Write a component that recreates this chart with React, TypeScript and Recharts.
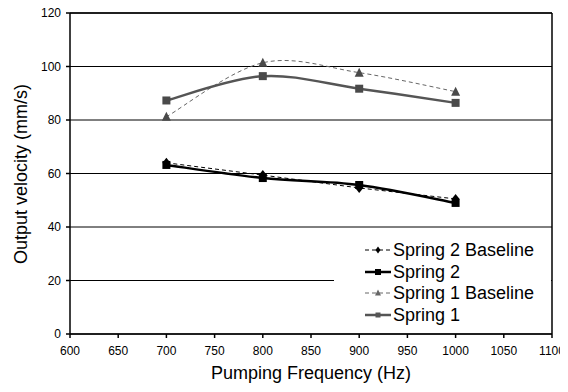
import React from "react";
import {
  LineChart,
  Line,
  XAxis,
  YAxis,
  CartesianGrid,
  ReferenceLine,
  Legend,
} from "recharts";

const frequencies = [700, 800, 900, 1000];
const spring2Baseline = [64, 59.4, 54.6, 50.5];
const spring2 = [63.2, 58.3, 55.7, 49];
const spring1Baseline = [81.2, 101.4, 97.7, 90.6];
const spring1 = [87.3, 96.4, 91.7, 86.4];

const xTicks = [600, 650, 700, 750, 800, 850, 900, 950, 1000, 1050, 1100];
const yTicks = [0, 20, 40, 60, 80, 100, 120];

const data = frequencies.map((f, i) => ({
  freq: f,
  s2b: spring2Baseline[i],
  s2: spring2[i],
  s1b: spring1Baseline[i],
  s1: spring1[i],
}));

// Catmull-Rom style smoothing (similar to spreadsheet "smoothed line")
const smoothCurve: any = (context: any) => {
  let pts: number[][] = [];
  return {
    areaStart() {},
    areaEnd() {},
    lineStart() {
      pts = [];
    },
    point(x: number, y: number) {
      pts.push([+x, +y]);
    },
    lineEnd() {
      if (!pts.length) return;
      context.moveTo(pts[0][0], pts[0][1]);
      for (let i = 0; i < pts.length - 1; i++) {
        const p0 = pts[i - 1] || pts[i];
        const p1 = pts[i];
        const p2 = pts[i + 1];
        const p3 = pts[i + 2] || pts[i + 1];
        const c1x = p1[0] + (p2[0] - p0[0]) / 6;
        const c1y = p1[1] + (p2[1] - p0[1]) / 6;
        const c2x = p2[0] - (p3[0] - p1[0]) / 6;
        const c2y = p2[1] - (p3[1] - p1[1]) / 6;
        context.bezierCurveTo(c1x, c1y, c2x, c2y, p2[0], p2[1]);
      }
    },
  };
};

type Shape = "square" | "triangle" | "diamond";

const Marker = ({ cx, cy, shape, color, size }: any) => {
  const s = size / 2;
  if (shape === "square")
    return <rect x={cx - s} y={cy - s} width={size} height={size} fill={color} />;
  if (shape === "triangle")
    return (
      <polygon
        points={`${cx},${cy - s - 1} ${cx + s + 0.5},${cy + s} ${cx - s - 0.5},${cy + s}`}
        fill={color}
      />
    );
  return (
    <polygon
      points={`${cx},${cy - s - 1} ${cx + s},${cy} ${cx},${cy + s + 1} ${cx - s},${cy}`}
      fill={color}
    />
  );
};

const makeDot = (shape: Shape, color: string, size: number) => (props: any) => {
  const { cx, cy, index } = props;
  if (cx == null || cy == null) return <g key={index} />;
  return (
    <g key={index}>
      <Marker cx={cx} cy={cy} shape={shape} color={color} size={size} />
    </g>
  );
};

const legendItems = [
  { name: "Spring 2 Baseline", color: "#000", dash: "4 3", width: 1, shape: "diamond" as Shape, msize: 5 },
  { name: "Spring 2", color: "#000", dash: undefined, width: 2.5, shape: "square" as Shape, msize: 6 },
  { name: "Spring 1 Baseline", color: "#666", dash: "4 3", width: 1, shape: "triangle" as Shape, msize: 5 },
  { name: "Spring 1", color: "#555", dash: undefined, width: 2.5, shape: "square" as Shape, msize: 5 },
];

const font = "'Liberation Sans', Arial, sans-serif";

const CustomLegend = () => (
  <div
    style={{
      background: "#fff",
      width: 217,
      height: 104,
      position: "relative",
      fontFamily: font,
    }}
  >
    {legendItems.map((it, i) => (
      <div
        key={it.name}
        style={{
          position: "absolute",
          left: 30,
          top: 10 + i * 21.5,
          height: 22,
          display: "flex",
          alignItems: "center",
          whiteSpace: "nowrap",
        }}
      >
        <svg width={28} height={22} style={{ display: "block" }}>
          <line
            x1={1}
            y1={11}
            x2={27}
            y2={11}
            stroke={it.color}
            strokeWidth={it.width}
            strokeDasharray={it.dash}
          />
          <Marker cx={14} cy={11} shape={it.shape} color={it.color} size={it.msize} />
        </svg>
        <span style={{ fontSize: 18, color: "#000", marginLeft: 1, lineHeight: "22px" }}>
          {it.name}
        </span>
      </div>
    ))}
  </div>
);

export default function App() {
  return (
    <div style={{ margin: -8, width: 568, height: 392 }}>
      <LineChart
        width={568}
        height={392}
        data={data}
        margin={{ top: 13, right: 16, bottom: 8, left: 30 }}
        style={{ fontFamily: font }}
      >
        <CartesianGrid horizontal vertical={false} stroke="#000" strokeWidth={1} />
        <XAxis
          dataKey="freq"
          type="number"
          domain={[600, 1100]}
          ticks={xTicks}
          interval={0}
          height={50}
          tickSize={4}
          tickMargin={8}
          stroke="#000"
          strokeWidth={1.5}
          tick={{ fill: "#000", fontSize: 12, fontFamily: font }}
          label={{
            content: () => (
              <text
                x={311}
                y={373}
                textAnchor="middle"
                dominantBaseline="central"
                fontSize={18}
                fill="#000"
                fontFamily={font}
              >
                Pumping Frequency (Hz)
              </text>
            ),
          }}
        />
        <YAxis
          type="number"
          domain={[0, 120]}
          ticks={yTicks}
          interval={0}
          width={40}
          tickSize={4}
          tickMargin={5}
          stroke="#000"
          strokeWidth={1.5}
          tick={{ fill: "#000", fontSize: 12, fontFamily: font }}
          label={{
            content: () => (
              <text
                x={21}
                y={174}
                transform="rotate(-90 21 174)"
                textAnchor="middle"
                dominantBaseline="central"
                fontSize={18}
                fill="#000"
                fontFamily={font}
              >
                Output velocity (mm/s)
              </text>
            ),
          }}
        />
        <ReferenceLine y={120} stroke="#000" strokeWidth={1.5} />
        <ReferenceLine x={1100} stroke="#000" strokeWidth={1.5} />
        <Legend
          layout="vertical"
          align="center"
          verticalAlign="middle"
          content={() => <CustomLegend />}
          wrapperStyle={{ position: "absolute", left: 334, top: 229, width: 217, height: 104 }}
        />
        <Line
          dataKey="s2b"
          name="Spring 2 Baseline"
          type="linear"
          stroke="#000"
          strokeWidth={1}
          strokeDasharray="4 3"
          dot={makeDot("diamond", "#000", 8)}
          isAnimationActive={false}
        />
        <Line
          dataKey="s2"
          name="Spring 2"
          type={smoothCurve}
          stroke="#000"
          strokeWidth={2.5}
          dot={makeDot("square", "#000", 8)}
          isAnimationActive={false}
        />
        <Line
          dataKey="s1b"
          name="Spring 1 Baseline"
          type={smoothCurve}
          stroke="#666"
          strokeWidth={1}
          strokeDasharray="4 3"
          dot={makeDot("triangle", "#4a4a4a", 8)}
          isAnimationActive={false}
        />
        <Line
          dataKey="s1"
          name="Spring 1"
          type={smoothCurve}
          stroke="#555"
          strokeWidth={2.5}
          dot={makeDot("square", "#4a4a4a", 8)}
          isAnimationActive={false}
        />
      </LineChart>
    </div>
  );
}
